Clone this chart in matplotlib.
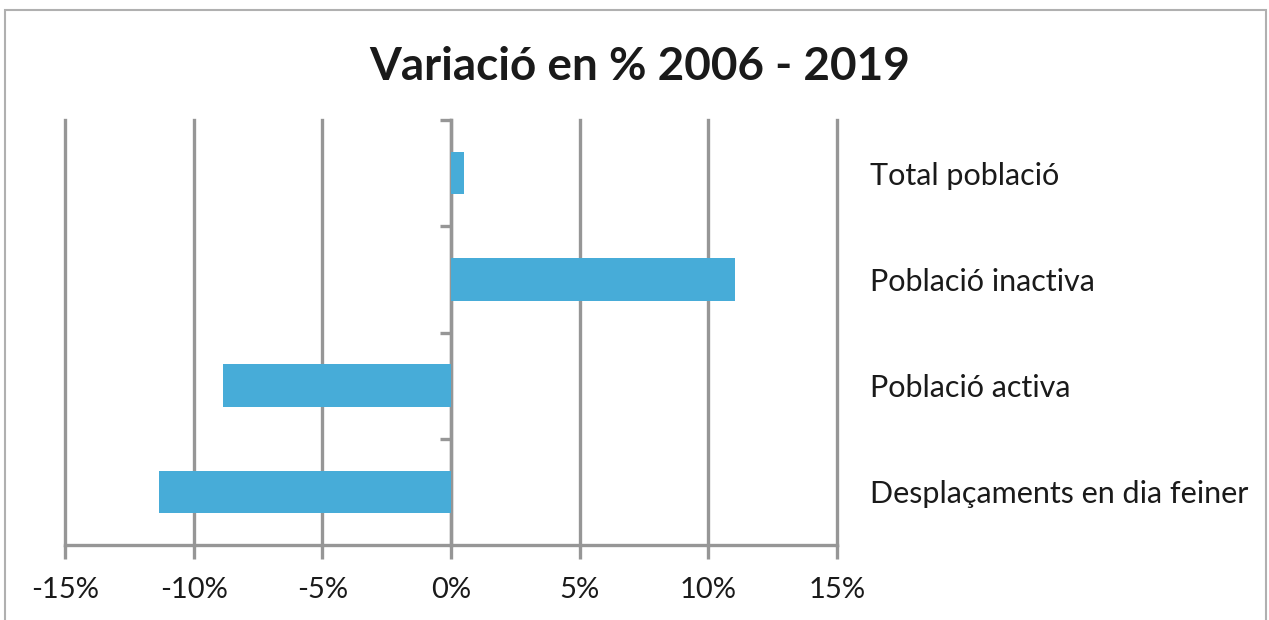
import matplotlib
matplotlib.use("Agg")
import matplotlib.pyplot as plt
from matplotlib.patches import Rectangle
import matplotlib.ticker as plticker

categories = ['Total població', 'Població inactiva', 'Població activa',
              'Desplaçaments en dia feiner']
values = [0.5, 11.05, -8.85, -11.35]
xticks = [-15, -10, -5, 0, 5, 10, 15]
title = 'Variació en % 2006 - 2019'

plt.rcParams['font.family'] = ['Lato', 'DejaVu Sans']
grey = '#969696'
blue = '#47acd8'

fig = plt.figure(figsize=(12.69, 6.2), dpi=100)
ax = fig.add_axes([65 / 1269, 75 / 620, 772 / 1269, 425 / 620])

ypos = list(range(len(categories)))
ax.barh(ypos, values, height=0.4, color=blue, zorder=3)

ax.set_xlim(-15, 15)
ax.set_ylim(len(categories) - 0.5, -0.5)

ax.set_xticks(xticks)
ax.xaxis.set_major_formatter(plticker.FuncFormatter(lambda v, p: f'{v:.0f}%'))
ax.tick_params(axis='x', direction='out', length=10, width=2.4, color=grey,
               labelsize=21, pad=13, labelcolor='#1a1a1a')
ax.grid(axis='x', color=grey, linewidth=2.4, zorder=1)
for line in ax.get_xgridlines():
    line.set_clip_on(False)  # keep the outer lines full width

# category names on the right, boundary ticks on the zero line
ax.set_yticks(ypos)
ax.set_yticklabels(categories)
ax.set_yticks([-0.5, 0.5, 1.5, 2.5], minor=True)
ax.tick_params(axis='y', which='major', length=0, left=False, right=False,
               labelleft=False, labelright=True, labelsize=22, pad=24,
               labelcolor='#1a1a1a')
ax.tick_params(axis='y', which='minor', direction='out', length=8, width=2.4,
               color=grey, left=True, right=False)

ax.spines['left'].set_position(('data', 0))
ax.spines['left'].set_color(grey)
ax.spines['left'].set_linewidth(2.4)
ax.spines['bottom'].set_color(grey)
ax.spines['bottom'].set_linewidth(2.4)
ax.spines['top'].set_visible(False)
ax.spines['right'].set_visible(False)

fig.text(640 / 1269, 1 - 67 / 620, title, ha='center', va='center',
         fontsize=33, fontweight='bold', color='#1a1a1a')

fig.patches.append(Rectangle((5 / 1269, -0.05), 1261 / 1269, 1.05 - 10 / 620,
                             transform=fig.transFigure, fill=False,
                             edgecolor='#b0b0b0', linewidth=1.5))

fig.savefig('out.png', dpi=100)
